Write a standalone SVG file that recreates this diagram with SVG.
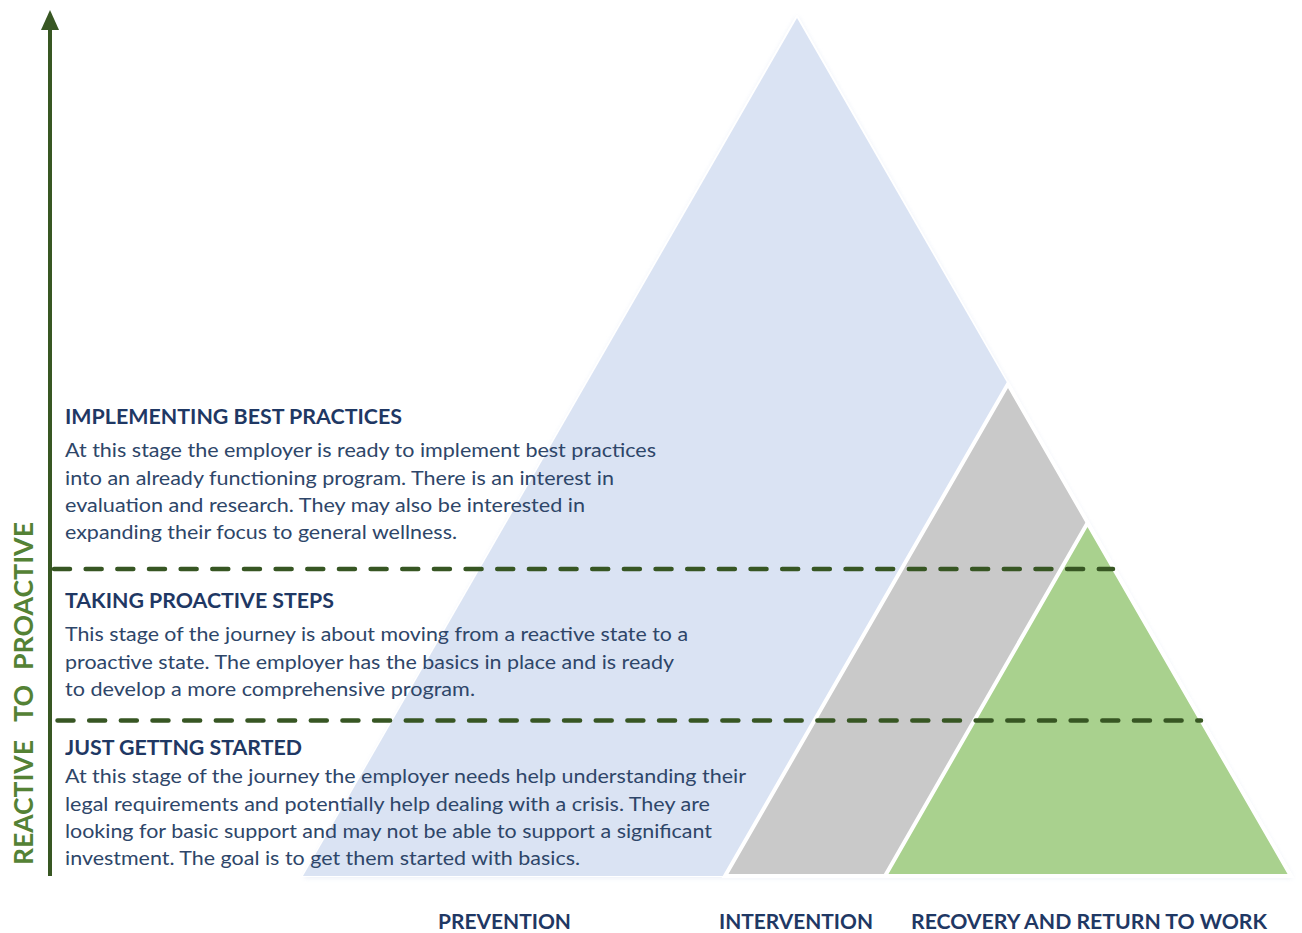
<svg xmlns="http://www.w3.org/2000/svg" width="1302" height="933" viewBox="0 0 1302 933">
<style>
.h{font-family:Lato,"Liberation Sans",sans-serif;font-weight:bold;font-size:21px;fill:#1f3864}
.b{font-family:Lato,"Liberation Sans",sans-serif;font-size:19.5px;fill:#2e4669}
.lab{font-family:Lato,"Liberation Sans",sans-serif;font-weight:bold;font-size:21px;fill:#1f3864}
.axis{font-family:Lato,"Liberation Sans",sans-serif;font-weight:bold;font-size:27px;fill:#548235}
.dash{stroke:#375623;stroke-width:4.5;stroke-linecap:round;stroke-dasharray:16 15.66;fill:none}
.sep{stroke:#ffffff;stroke-width:4;stroke-linejoin:miter}
</style>
<defs>
<filter id="glow" x="-10%" y="-10%" width="120%" height="120%">
<feGaussianBlur stdDeviation="2.5"/>
</filter>
</defs>
<rect width="1302" height="933" fill="#ffffff"/>
<g id="pyramid-shadow">
<polygon points="303,878 797,16 1293,878" fill="#e4eaf5" filter="url(#glow)" opacity="0.8"/>
<polygon points="301,877 797,14 1293,877" fill="#ffffff"/>
</g>
<g id="prevention">
<polygon points="303,876 797,18 1291,876" fill="#dae3f3"/>
</g>
<g id="intervention">
<polygon class="sep" points="725,876 1008,384 1291,876" fill="#c9c9c9"/>
</g>
<g id="recovery">
<polygon class="sep" points="885,876 1087.5,523 1291,876" fill="#a9d18e"/>
</g>
<g id="connectors">
<line x1="50" y1="876" x2="50" y2="30" stroke="#385723" stroke-width="4"/>
<polygon points="50,10 41,30 59,30" fill="#385723"/>
<line class="dash" x1="54" y1="569" x2="1113" y2="569"/>
<line class="dash" x1="57.5" y1="720.5" x2="1201" y2="720.5"/>
</g>
<g id="axis-label" transform="translate(33,867) rotate(-90)">
<text class="axis" x="2" y="0" textLength="125" lengthAdjust="spacingAndGlyphs">REACTIVE</text>
<text class="axis" x="145" y="0" textLength="37" lengthAdjust="spacingAndGlyphs">TO</text>
<text class="axis" x="197" y="0" textLength="148" lengthAdjust="spacingAndGlyphs">PROACTIVE</text>
</g>
<g id="stage-implementing">
<text class="h" x="65" y="424" textLength="337" lengthAdjust="spacingAndGlyphs">IMPLEMENTING BEST PRACTICES</text>
<text class="b" x="65" y="457" textLength="591" lengthAdjust="spacingAndGlyphs">At this stage the employer is ready to implement best practices</text>
<text class="b" x="65" y="485" textLength="549" lengthAdjust="spacingAndGlyphs">into an already functioning program. There is an interest in</text>
<text class="b" x="65" y="512" textLength="520" lengthAdjust="spacingAndGlyphs">evaluation and research. They may also be interested in</text>
<text class="b" x="65" y="539" textLength="392" lengthAdjust="spacingAndGlyphs">expanding their focus to general wellness.</text>
</g>
<g id="stage-proactive">
<text class="h" x="65" y="608" textLength="269" lengthAdjust="spacingAndGlyphs">TAKING PROACTIVE STEPS</text>
<text class="b" x="65" y="641" textLength="623" lengthAdjust="spacingAndGlyphs">This stage of the journey is about moving from a reactive state to a</text>
<text class="b" x="65" y="669" textLength="609" lengthAdjust="spacingAndGlyphs">proactive state. The employer has the basics in place and is ready</text>
<text class="b" x="65" y="696" textLength="410" lengthAdjust="spacingAndGlyphs">to develop a more comprehensive program.</text>
</g>
<g id="stage-started">
<text class="h" x="65" y="755" textLength="237" lengthAdjust="spacingAndGlyphs">JUST GETTNG STARTED</text>
<text class="b" x="65" y="783" textLength="681" lengthAdjust="spacingAndGlyphs">At this stage of the journey the employer needs help understanding their</text>
<text class="b" x="65" y="811" textLength="645" lengthAdjust="spacingAndGlyphs">legal requirements and potentially help dealing with a crisis. They are</text>
<text class="b" x="65" y="838" textLength="647" lengthAdjust="spacingAndGlyphs">looking for basic support and may not be able to support a significant</text>
<text class="b" x="65" y="865" textLength="515" lengthAdjust="spacingAndGlyphs">investment. The goal is to get them started with basics.</text>
</g>
<g id="label-prevention">
<text class="lab" x="438" y="929" textLength="133" lengthAdjust="spacingAndGlyphs">PREVENTION</text>
</g>
<g id="label-intervention">
<text class="lab" x="719" y="929" textLength="154" lengthAdjust="spacingAndGlyphs">INTERVENTION</text>
</g>
<g id="label-recovery">
<text class="lab" x="911" y="929" textLength="356" lengthAdjust="spacingAndGlyphs">RECOVERY AND RETURN TO WORK</text>
</g>
</svg>
